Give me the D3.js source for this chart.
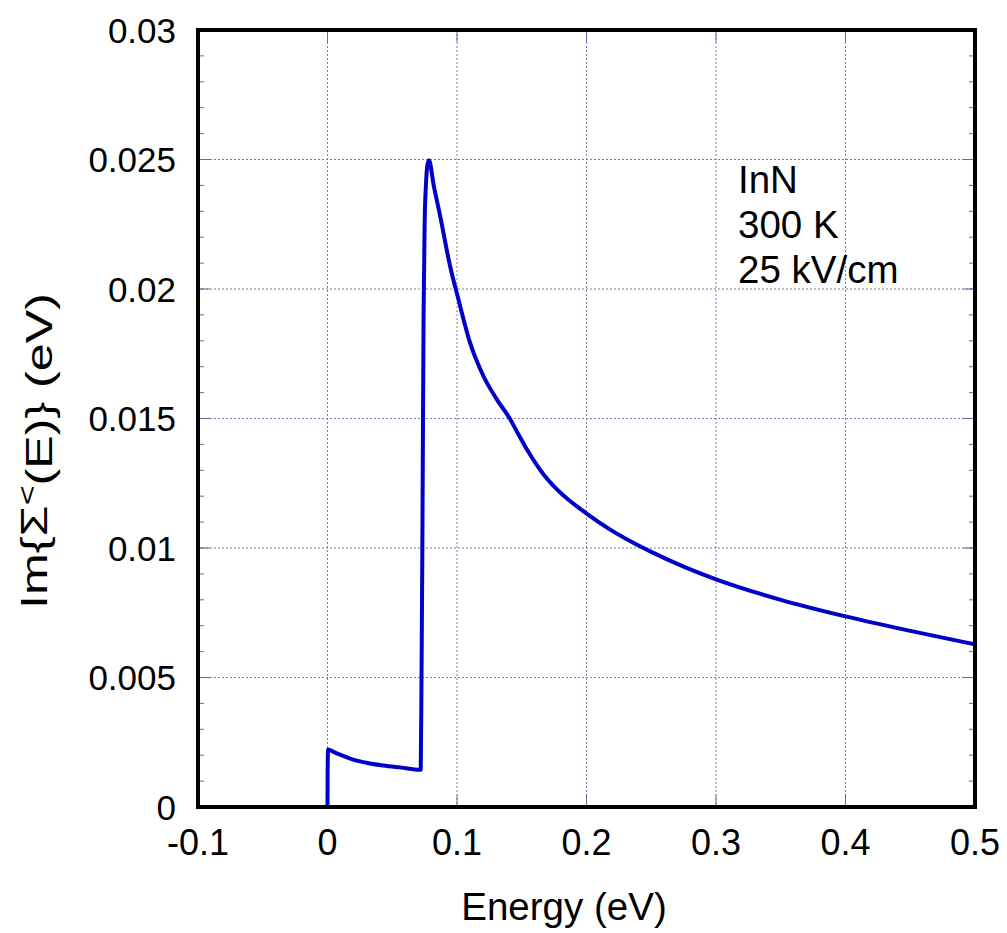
<!DOCTYPE html>
<html>
<head>
<meta charset="utf-8">
<script src="https://cdn.jsdelivr.net/npm/d3@7"></script>
<style>
  body { margin: 0; background: #fff; }
  text { font-family: "Liberation Sans", Arial, sans-serif; }
</style>
</head>
<body>
<svg class="vis" width="1007" height="933"></svg>
<script>
// data (Energy in eV, Im{Sigma<} in eV)
var energy = [-0.1, 0, 0.0001, 0.0005, 0.005, 0.0097, 0.0170, 0.0251, 0.0340, 0.0430, 0.0570, 0.0714,
    0.0720, 0.0726, 0.0732, 0.0742, 0.0750, 0.0760, 0.0772, 0.0784,
    0.0820, 0.0869, 0.0946, 0.1010, 0.1100, 0.1203, 0.1306, 0.1410, 0.1460, 0.1538, 0.1667, 0.1770,
    0.2009, 0.2180, 0.2336, 0.2500, 0.2750, 0.3000, 0.3500, 0.4000, 0.4500, 0.5000];
var imSigma = [0, 0, 0.0014, 0.00222, 0.00212, 0.00202, 0.00188, 0.00176, 0.00167, 0.00160, 0.00152, 0.00144,
    0.00144, 0.0050, 0.0096, 0.0190, 0.0225, 0.0240, 0.0248, 0.02497,
    0.0240, 0.02284, 0.0209, 0.01962, 0.01794, 0.01665, 0.01575, 0.01498, 0.01452, 0.01382, 0.01285, 0.01227,
    0.0113, 0.01072, 0.01027, 0.00985, 0.00928, 0.00879, 0.00800, 0.00736, 0.00680, 0.00628];

var xTicks = [-0.1, 0, 0.1, 0.2, 0.3, 0.4, 0.5];
var yTicks = [0, 0.005, 0.01, 0.015, 0.02, 0.025, 0.03];
var yMinorTicks = d3.range(0, 31).map(d => d / 1000);
var notes = ["InN", "300 K", "25 kV/cm"];

var svg = d3.select(".vis");

var pLeft = 198, pRight = 975, pTop = 30, pBottom = 807;

var x = d3.scaleLinear().domain([-0.1, 0.5]).range([pLeft, pRight]);
var y = d3.scaleLinear().domain([0, 0.03]).range([pBottom, pTop]);

var gridColor = "#7878a6";

// grid lines
svg.selectAll(".vgrid")
    .data(xTicks)
    .enter().append("line")
    .attr("class", "vgrid")
    .attr("x1", d => x(d)).attr("x2", d => x(d))
    .attr("y1", pTop).attr("y2", pBottom)
    .attr("stroke", gridColor)
    .attr("stroke-width", 1)
    .attr("stroke-dasharray", "2,2");

svg.selectAll(".hgrid")
    .data(yTicks)
    .enter().append("line")
    .attr("class", "hgrid")
    .attr("x1", pLeft).attr("x2", pRight)
    .attr("y1", d => y(d)).attr("y2", d => y(d))
    .attr("stroke", gridColor)
    .attr("stroke-width", 1)
    .attr("stroke-dasharray", "2,2");

// inward ticks, minor on y, major on both axes
var tickColor = "#6a6a9a";
svg.selectAll(".yminL")
    .data(yMinorTicks)
    .enter().append("line")
    .attr("x1", pLeft).attr("x2", pLeft + 6)
    .attr("y1", d => y(d)).attr("y2", d => y(d))
    .attr("stroke", tickColor).attr("stroke-width", 1);
svg.selectAll(".yminR")
    .data(yMinorTicks)
    .enter().append("line")
    .attr("x1", pRight - 6).attr("x2", pRight)
    .attr("y1", d => y(d)).attr("y2", d => y(d))
    .attr("stroke", tickColor).attr("stroke-width", 1);
svg.selectAll(".ymajL")
    .data(yTicks)
    .enter().append("line")
    .attr("x1", pLeft).attr("x2", pLeft + 12)
    .attr("y1", d => y(d)).attr("y2", d => y(d))
    .attr("stroke", tickColor).attr("stroke-width", 1);
svg.selectAll(".ymajR")
    .data(yTicks)
    .enter().append("line")
    .attr("x1", pRight - 12).attr("x2", pRight)
    .attr("y1", d => y(d)).attr("y2", d => y(d))
    .attr("stroke", tickColor).attr("stroke-width", 1);
svg.selectAll(".xmajB")
    .data(xTicks)
    .enter().append("line")
    .attr("x1", d => x(d)).attr("x2", d => x(d))
    .attr("y1", pBottom).attr("y2", pBottom - 12)
    .attr("stroke", tickColor).attr("stroke-width", 1);
svg.selectAll(".xmajT")
    .data(xTicks)
    .enter().append("line")
    .attr("x1", d => x(d)).attr("x2", d => x(d))
    .attr("y1", pTop).attr("y2", pTop + 12)
    .attr("stroke", tickColor).attr("stroke-width", 1);

// the curve
var line = d3.line()
    .x((d, i) => x(energy[i]))
    .y((d, i) => y(imSigma[i]))
    .curve(d3.curveMonotoneX);

svg.append("path")
    .datum(imSigma)
    .attr("d", line)
    .attr("fill", "none")
    .attr("stroke", "#0000c8")
    .attr("stroke-width", 4)
    .attr("stroke-linejoin", "round");

// frame
svg.append("rect")
    .attr("x", pLeft).attr("y", pTop)
    .attr("width", pRight - pLeft).attr("height", pBottom - pTop)
    .attr("fill", "none")
    .attr("stroke", "black")
    .attr("stroke-width", 4);

// tick labels
var fmtY = d => d === 0 ? "0" : String(+d.toFixed(3));
svg.selectAll(".ylab")
    .data(yTicks)
    .enter().append("text")
    .attr("x", pLeft - 22)
    .attr("y", d => y(d))
    .attr("dy", "0.36em")
    .attr("text-anchor", "end")
    .attr("font-size", "35px")
    .attr("fill", "black")
    .text(fmtY);

svg.selectAll(".xlab")
    .data(xTicks)
    .enter().append("text")
    .attr("x", d => x(d))
    .attr("y", pBottom + 48)
    .attr("text-anchor", "middle")
    .attr("font-size", "36px")
    .attr("fill", "black")
    .text(d => d === 0 ? "0" : String(+d.toFixed(1)));

// axis titles
svg.append("text")
    .attr("x", 564)
    .attr("y", 920)
    .attr("text-anchor", "middle")
    .attr("font-size", "38.5px")
    .text("Energy (eV)");

var ylab = svg.append("text")
    .attr("transform", "translate(47, 451) rotate(-90)")
    .attr("text-anchor", "middle")
    .attr("font-size", "37px")
    .attr("textLength", 316)
    .attr("lengthAdjust", "spacingAndGlyphs");
ylab.append("tspan").text("Im{Σ");
ylab.append("tspan").attr("dy", "-0.45em").attr("font-size", "25px").text("<");
ylab.append("tspan").attr("dy", "0.45em").text("(E)} (eV)");

// annotation
svg.selectAll(".note")
    .data(notes)
    .enter().append("text")
    .attr("x", 738)
    .attr("y", (d, i) => 193 + i * 45)
    .attr("font-size", "38.5px")
    .text(d => d);
</script>
</body>
</html>
